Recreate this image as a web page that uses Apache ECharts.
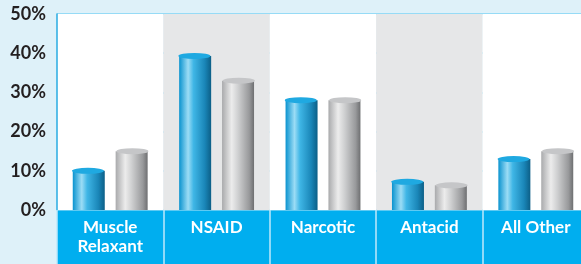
<!DOCTYPE html>
<html>
<head>
<meta charset="utf-8">
<script src="https://cdn.jsdelivr.net/npm/echarts@6/dist/echarts.min.js"></script>
<style>
  html, body { margin: 0; padding: 0; background: #def1f9; }
  #chart { width: 581px; height: 264px; }
</style>
</head>
<body>
<div id="chart"></div>
<script>
var categories = ['Muscle\nRelaxant', 'NSAID', 'Narcotic', 'Antacid', 'All Other'];
var blueValues = [10, 39.3, 28, 7.2, 13];
var grayValues = [15, 33, 28, 6.3, 15];
var yTicks = [0, 10, 20, 30, 40, 50];

var myChart = echarts.init(document.getElementById('chart'));

var blueGrad = new echarts.graphic.LinearGradient(0, 0, 1, 0, [
  { offset: 0, color: '#0a93cf' },
  { offset: 0.28, color: '#9bdcf5' },
  { offset: 0.45, color: '#3fb6e6' },
  { offset: 0.8, color: '#1a86b8' },
  { offset: 1, color: '#0c5f87' }
]);
var grayGrad = new echarts.graphic.LinearGradient(0, 0, 1, 0, [
  { offset: 0, color: '#a9aaac' },
  { offset: 0.3, color: '#ececec' },
  { offset: 0.5, color: '#cfd0d1' },
  { offset: 0.85, color: '#98999b' },
  { offset: 1, color: '#6e6f71' }
]);

var barW = 32;
var gap = '34%';

var option = {
  animation: false,
  backgroundColor: '#def1f9',
  graphic: [{
    type: 'rect',
    left: 57,
    bottom: 0,
    z: -1,
    shape: { width: 524, height: 54 },
    style: { fill: '#00aeef' }
  }],
  grid: { left: 57, top: 14, bottom: 54, width: 532, containLabel: false, outerBoundsMode: 'none' },
  xAxis: {
    type: 'category',
    data: categories,
    boundaryGap: true,
    axisLine: { show: false },
    axisTick: { show: true, length: 54, lineStyle: { color: '#bfe9fb', width: 1.5 } },
    axisLabel: {
      color: '#ffffff',
      fontFamily: 'Lato',
      fontWeight: 'bold',
      fontSize: 17,
      lineHeight: 19,
      margin: 8,
      verticalAlign: 'top'
    },
    splitArea: { show: true, areaStyle: { color: ['#ffffff', '#e6e7e8'] } }
  },
  yAxis: {
    type: 'value',
    min: 0,
    max: 50,
    interval: 10,
    axisLine: { show: true, lineStyle: { color: '#29abe2', width: 1.5 } },
    axisTick: { show: false },
    axisLabel: {
      color: '#231f20',
      fontFamily: 'Lato',
      fontWeight: 'bold',
      fontSize: 18,
      margin: 11,
      formatter: function (v) { return yTicks.indexOf(v) >= 0 ? v + '%' : ''; }
    },
    splitLine: { show: true, lineStyle: { color: '#7ed3f4', width: 1.5 } }
  },
  series: [
    {
      type: 'bar',
      name: 'blue',
      data: blueValues,
      barWidth: barW,
      barGap: gap,
      itemStyle: { color: blueGrad },
      z: 2
    },
    {
      type: 'bar',
      name: 'gray',
      data: grayValues,
      barWidth: barW,
      barGap: gap,
      itemStyle: { color: grayGrad },
      z: 2
    },
    {
      type: 'pictorialBar',
      data: blueValues,
      symbol: 'circle',
      symbolSize: [barW, 6],
      symbolPosition: 'end',
      symbolOffset: [0, '-50%'],
      barGap: gap,
      itemStyle: { color: '#1fa9e1' },
      z: 3
    },
    {
      type: 'pictorialBar',
      data: grayValues,
      symbol: 'circle',
      symbolSize: [barW, 6],
      symbolPosition: 'end',
      symbolOffset: [0, '-50%'],
      barGap: gap,
      itemStyle: { color: '#c5c6c8' },
      z: 3
    }
  ]
};

myChart.setOption(option);
</script>
</body>
</html>
